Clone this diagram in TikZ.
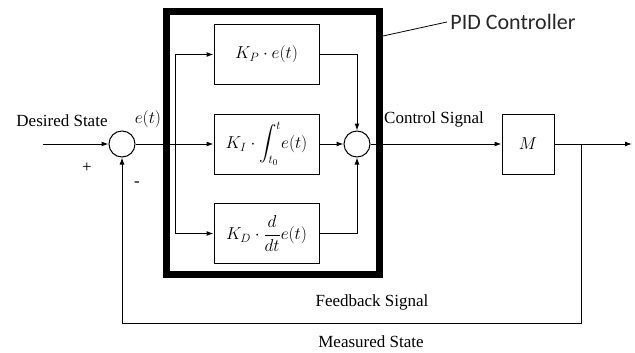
\documentclass[tikz,border=0pt]{standalone}
\usepackage{amsmath}
\usepackage{fontspec}
\setmainfont{Liberation Serif}
\newfontfamily\calibrifont{Carlito}
\usetikzlibrary{positioning,arrows.meta,calc}
\tikzset{
  block-node/.style={draw, line width=1pt, minimum width=105pt, minimum height=60pt,
    inner sep=0pt, font=\fontsize{18}{20}\selectfont},
  sum-node/.style={draw, circle, line width=1pt, minimum size=26pt, inner sep=0pt},
  frame-node/.style={draw, line width=7pt, minimum width=213pt, minimum height=263pt, inner sep=0pt},
  flow-arrow/.style={-{Latex[length=7pt,width=5pt]}, line width=1pt},
  flow-line/.style={line width=1pt},
  caption-text/.style={font=\fontsize{17}{19}\selectfont},
  math-text/.style={font=\fontsize{18}{20}\selectfont}
}
\begin{document}
\begin{tikzpicture}[x=1pt,y=-1pt]
\useasboundingbox (0,0) rectangle (635,353);
% controller frame and blocks
\node[frame-node] (pid) at (273,143) {};
\node[sum-node] (s1) at (122,144) {};
\node[sum-node] (s2) at (357,144) {};
\node[block-node] (kp) at (266.5,54.5) {$K_P\cdot e(t)$};
\node[block-node] (ki) at (266.5,144) {$\displaystyle K_I\cdot\int_{t_0}^{t}\! e(t)$};
\node[block-node] (kd) at (266.5,233.5) {$\displaystyle K_D\cdot\frac{d}{dt}e(t)$};
\node[block-node, minimum width=52pt] (m) at (528,144) {$M$};
\coordinate (in) at (43,144);
\coordinate (out) at (632,144);
\coordinate (split) at (175,144);
\coordinate (tap) at (581,144);
\coordinate (fb) at (581,323);
\coordinate (pid-tap) at (383,36);
% signal flow
\draw[flow-arrow] (in) -- (s1);
\draw[flow-line] (s1) -- (split);
\draw[flow-arrow] (split) |- (kp);
\draw[flow-arrow] (split) -- (ki);
\draw[flow-arrow] (split) |- (kd);
\draw[flow-arrow] (kp) -| (s2);
\draw[flow-arrow] (ki) -- (s2);
\draw[flow-arrow] (kd) -| (s2);
\draw[flow-arrow] (s2) -- (m);
\draw[flow-arrow] (m) -- (out);
\draw[flow-arrow] (tap) -- (fb) -| (s1);
% labels
\node[caption-text] (desired) at (62,121) {Desired State};
\node[math-text] (err) at (148,119) {$e(t)$};
\node[caption-text] (plus) at (87,168) {+};
\node[caption-text] (minus) at (137,184) {-};
\node[caption-text] (control) at (434,119) {Control Signal};
\node[font=\calibrifont\fontsize{22}{24}\selectfont, text=black!85] (pid-label) at (513,22) {PID Controller};
\draw[line width=0.8pt] (pid-tap) -- (pid-label.west);
\node[caption-text] (feedback) at (372,302) {Feedback Signal};
\node[caption-text] (measured) at (371,342) {Measured State};
\end{tikzpicture}
\end{document}
